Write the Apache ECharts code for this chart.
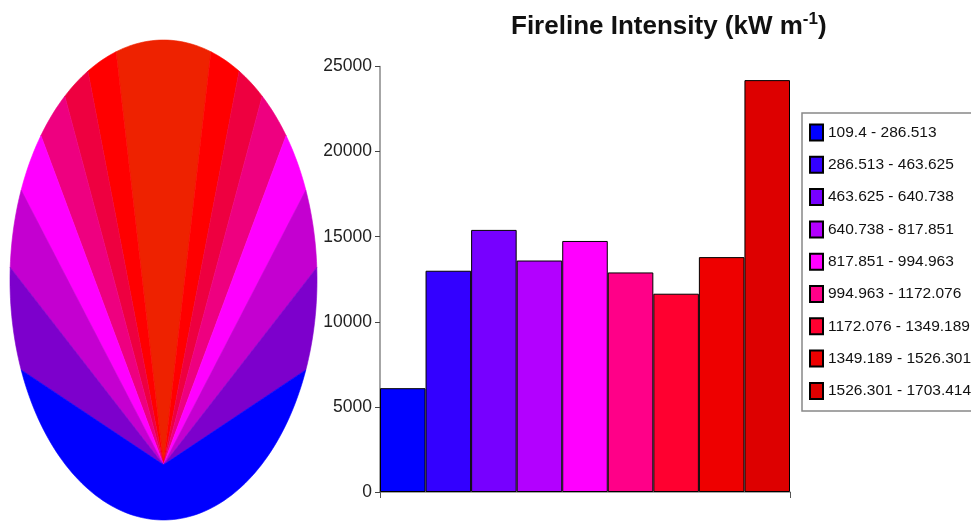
<!DOCTYPE html>
<html><head><meta charset="utf-8">
<script src="https://cdn.jsdelivr.net/npm/echarts@6/dist/echarts.min.js"></script>
<style>html,body{margin:0;padding:0;background:#fff}#c{width:971px;height:522px}</style>
</head><body><div id="c"></div>
<script>
// ---- data ----
const classLabels = ['109.4 - 286.513', '286.513 - 463.625', '463.625 - 640.738', '640.738 - 817.851',
  '817.851 - 994.963', '994.963 - 1172.076', '1172.076 - 1349.189', '1349.189 - 1526.301', '1526.301 - 1703.414'];
const barValues = [6100, 13000, 15400, 13600, 14750, 12900, 11650, 13800, 24200];
const classColors = ['#0000ff', '#3300ff', '#7700ff', '#b300ff', '#ff00ff', '#ff0088', '#ff0030', '#ee0000', '#dd0000'];
const yMin = 0, yMax = 25000, yStep = 5000;
// fire ellipse: outer parametric angle (deg from heading) of each intensity band, centre outward
const bandOuterAngles = [18, 29.5, 40, 53, 68, 87, 112, 180];
const bandColors = ['#ee2200', '#ff0000', '#ee0040', '#ee0080', '#ff00ff', '#c400d0', '#7d00cc', '#0000ff'];
const ignitionY = -0.77; // ignition point, in ellipse semi-axis units

const chart = echarts.init(document.getElementById('c'), null, {renderer: 'canvas'});
const FONT = 'Liberation Sans, Arial, Helvetica, sans-serif';

function arcPoly(api, a0, a1) {
  const pts = [api.coord([0, ignitionY])];
  const n = Math.max(8, Math.ceil(Math.abs(a1 - a0) / 1.5));
  for (let k = 0; k <= n; k++) {
    const t = (a0 + (a1 - a0) * k / n) * Math.PI / 180;
    pts.push(api.coord([Math.sin(t), Math.cos(t)]));
  }
  return pts;
}

const barSeries = classLabels.map((name, i) => ({
  name: name,
  type: 'bar',
  stack: 'all',
  xAxisIndex: 0, yAxisIndex: 0,
  barWidth: '100%',
  itemStyle: {color: classColors[i], borderColor: '#000', borderWidth: 1},
  emphasis: {disabled: true},
  data: barValues.map((v, j) => (j === i ? v : '-'))
}));

const ellipseSeries = {
  type: 'custom',
  xAxisIndex: 1, yAxisIndex: 1,
  silent: true,
  data: bandOuterAngles.map((a, i) => [0, 0, i]),
  renderItem: function (params, api) {
    const i = api.value(2);
    const a0 = i === 0 ? 0 : bandOuterAngles[i - 1];
    const a1 = bandOuterAngles[i];
    const col = bandColors[i];
    const style = {fill: col, stroke: col, lineWidth: 0.6};
    let polys;
    if (a0 === 0) polys = [arcPoly(api, -a1, a1)];
    else if (a1 >= 180) polys = [arcPoly(api, a0, 360 - a0)];
    else polys = [arcPoly(api, a0, a1), arcPoly(api, -a0, -a1)];
    return {
      type: 'group',
      children: polys.map(p => ({type: 'polygon', shape: {points: p}, style: style}))
    };
  }
};

chart.setOption({
  backgroundColor: '#fff',
  animation: false,
  title: {
    text: 'Fireline Intensity (kW m{sup|-1})',
    left: 506, top: 6,
    textStyle: {
      fontFamily: FONT, fontSize: 26, fontWeight: 'bold', color: '#111', lineHeight: 32,
      rich: {sup: {fontFamily: FONT, fontSize: 17, fontWeight: 'bold', color: '#111', verticalAlign: 'top', lineHeight: 32, padding: [0, 0, 12, 0]}}
    }
  },
  legend: {
    orient: 'vertical',
    left: 802, top: 113,
    padding: [10.5, 40, 11, 7],
    itemWidth: 13, itemHeight: 16, itemGap: 14.3,
    icon: 'rect',
    borderColor: '#888', borderWidth: 1.5,
    backgroundColor: '#fff',
    selectedMode: false,
    textStyle: {fontFamily: FONT, fontSize: 15.5, color: '#111', lineHeight: 18},
    data: classLabels
  },
  grid: [
    {left: 380, top: 66.5, width: 410, height: 425.5, containLabel: false},
    {left: 10, top: 40, width: 307, height: 480, containLabel: false}
  ],
  xAxis: [
    {type: 'category', gridIndex: 0, data: classLabels, boundaryGap: true,
     axisLine: {lineStyle: {color: '#888', width: 1.5}}, axisTick: {show: false}, axisLabel: {show: false}, splitLine: {show: false}},
    {type: 'value', gridIndex: 1, min: -1, max: 1, show: false},
    {type: 'value', gridIndex: 0, min: 0, max: 1, interval: 1, position: 'bottom',
     axisLine: {show: false}, axisTick: {show: true, length: 6, lineStyle: {color: '#555'}}, axisLabel: {show: false}, splitLine: {show: false}}
  ],
  yAxis: [
    {type: 'value', gridIndex: 0, min: yMin, max: yMax, interval: yStep,
     axisLine: {show: true, lineStyle: {color: '#888', width: 1.5}},
     axisTick: {show: true, length: 5, lineStyle: {color: '#444'}},
     axisLabel: {fontFamily: FONT, fontSize: 17.5, color: '#222', margin: 8, formatter: v => String(v)},
     splitLine: {show: false}},
    {type: 'value', gridIndex: 1, min: -1, max: 1, show: false}
  ],
  series: [ellipseSeries].concat(barSeries)
});
</script></body></html>
